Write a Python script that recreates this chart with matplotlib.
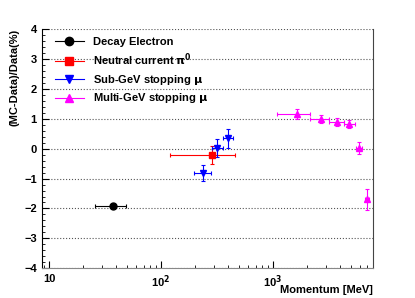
import matplotlib.pyplot as plt
from matplotlib.lines import Line2D
from matplotlib.ticker import MultipleLocator, LogLocator, NullFormatter

plt.rcParams['font.family'] = ['Liberation Sans', 'DejaVu Sans']
plt.rcParams['font.weight'] = 'bold'
plt.rcParams['mathtext.default'] = 'bf'

# decay electron
de_x = [37.3]
de_xlo = [26]
de_xhi = [48.4]
de_y = [-1.92]
de_yerr = [0.06]

# neutral current pi0
pi_x = [287]
pi_xlo = [120]
pi_xhi = [455]
pi_y = [-0.22]
pi_yerr = [0.30]

# sub-GeV stopping mu
sub_x = [237, 318, 399]
sub_xlo = [198, 288, 360]
sub_xhi = [279, 360, 440]
sub_y = [-0.81, 0.01, 0.35]
sub_yerr = [0.26, 0.30, 0.32]

# multi-GeV stopping mu
mul_x = [1637, 2685, 3750, 4840, 5900, 6960]
mul_xlo = [1086, 2138, 3200, 4300, 5500, 6700]
mul_xhi = [2138, 3200, 4300, 5400, 6300, 7200]
mul_y = [1.15, 0.98, 0.90, 0.83, 0.03, -1.69]
mul_yerr = [0.16, 0.13, 0.14, 0.13, 0.20, 0.35]

labels = ['Decay Electron', r'Neutral current $\pi^0$',
          r'Sub-GeV stopping $\mu$', r'Multi-GeV stopping $\mu$']
colors = ['black', 'red', 'blue', 'magenta']
markers = ['o', 's', 'v', '^']

fig = plt.figure(figsize=(4.15, 2.98), dpi=100)
ax = fig.add_axes([0.1005, 0.0997, 0.799, 0.8030])

series = [(de_x, de_xlo, de_xhi, de_y, de_yerr),
          (pi_x, pi_xlo, pi_xhi, pi_y, pi_yerr),
          (sub_x, sub_xlo, sub_xhi, sub_y, sub_yerr),
          (mul_x, mul_xlo, mul_xhi, mul_y, mul_yerr)]

for (x, xlo, xhi, y, ye), c, m in zip(series, colors, markers):
    xerr = [[xi - lo for xi, lo in zip(x, xlo)], [hi - xi for xi, hi in zip(x, xhi)]]
    ax.errorbar(x, y, xerr=xerr, yerr=ye, fmt=m, color=c, ms=5,
                elinewidth=0.8, capsize=1.5, capthick=0.8, ecolor=c, zorder=3)

ax.set_xscale('log')
ax.set_xlim(8.6, 7900)
ax.set_ylim(-4, 4)

ax.set_xticks([10, 100, 1000])
ax.set_xticklabels(['10', r'10$^{2}$', r'10$^{3}$'])
ax.xaxis.set_minor_locator(LogLocator(base=10, subs=range(2, 10)))
ax.xaxis.set_minor_formatter(NullFormatter())
ax.yaxis.set_major_locator(MultipleLocator(1))
ax.yaxis.set_minor_locator(MultipleLocator(0.2))

ax.tick_params(axis='both', which='both', direction='in', labelsize=8, top=False, right=False)
ax.tick_params(axis='both', which='major', length=5)
ax.tick_params(axis='both', which='minor', length=2.5)
ax.tick_params(axis='x', pad=4)

ax.yaxis.grid(True, which='major', linestyle=':', color='#555555', linewidth=0.8)
ax.spines['top'].set_visible(False)
ax.spines['bottom'].set_color('#888888')
ax.spines['right'].set_color('#444444')

ax.set_ylabel('(MC-Data)/Data(%)', fontsize=8, fontweight='bold', loc='top', labelpad=3)
ax.set_xlabel('Momentum [MeV]', fontsize=8, fontweight='bold', ha='right')
ax.xaxis.set_label_coords(1.0, -0.068)

handles = [Line2D([0], [0], color=c, marker=m, ms=6, lw=0.8) for c, m in zip(colors, markers)]
ax.legend(handles, labels, loc='upper left', frameon=False, fontsize=8,
          handlelength=2.6, labelspacing=0.42, borderaxespad=0.2,
          bbox_to_anchor=(0.02, 0.995))

fig.savefig('out.png', dpi=100)
